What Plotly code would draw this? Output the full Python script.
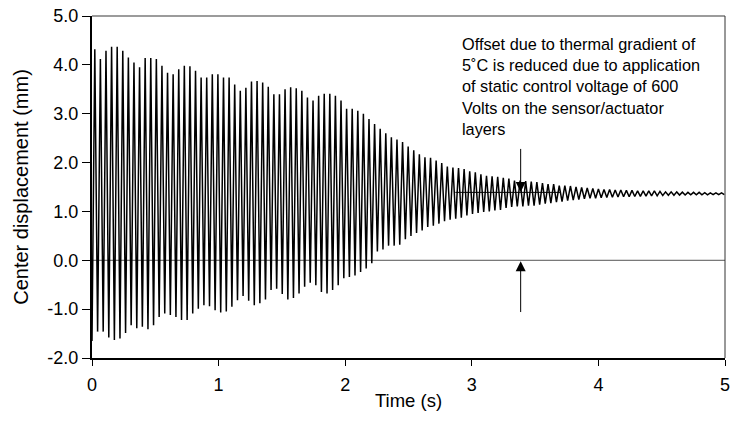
import plotly.graph_objects as go

# ---- data ----
period = 0.0442  # s, one oscillation cycle

# successive upper peaks (mm), peak k at (k-0.5)*period
peaks = [
    4.32, 4.12, 4.29, 4.37, 4.37, 4.29, 4.15, 4.05, 3.95, 4.14,
    4.14, 4.12, 3.98, 3.84, 3.81, 3.91, 3.98, 3.97, 3.88, 3.74,
    3.74, 3.81, 3.81, 3.74, 3.74, 3.60, 3.47, 3.53, 3.66, 3.67,
    3.64, 3.55, 3.40, 3.40, 3.50, 3.54, 3.52, 3.47, 3.33, 3.27,
    3.37, 3.41, 3.41, 3.37, 3.27, 3.10, 3.10, 3.06, 3.00, 2.89,
    2.79, 2.69, 2.60, 2.52, 2.47, 2.42, 2.33, 2.25,
    2.17, 2.11, 2.10, 2.04, 1.99, 1.92, 1.90, 1.89, 1.87, 1.82,
    1.80, 1.76, 1.73, 1.72, 1.71, 1.69, 1.67, 1.63, 1.63, 1.62,
    1.61, 1.60, 1.58, 1.56, 1.56, 1.53, 1.53,
    1.52, 1.50, 1.49, 1.48, 1.47, 1.46, 1.45, 1.45, 1.44, 1.44,
    1.43, 1.43, 1.42, 1.42, 1.42, 1.42, 1.41, 1.40, 1.40, 1.40,
    1.395, 1.39, 1.39, 1.39, 1.385, 1.38, 1.38, 1.38,
]

# successive lower troughs (mm), trough k at k*period
troughs = [
    -1.65,
    -1.46, -1.46, -1.58, -1.63, -1.60, -1.49, -1.33, -1.39, -1.36, -1.41,
    -1.33, -1.16, -1.09, -1.12, -1.16, -1.22, -1.22, -1.09, -0.99, -0.92,
    -0.94, -1.02, -1.07, -1.05, -0.95, -0.82, -0.73, -0.83, -0.92,
    -0.88, -0.80, -0.61, -0.58, -0.69, -0.80, -0.77, -0.68, -0.54, -0.46,
    -0.51, -0.65, -0.68, -0.61, -0.51, -0.37, -0.34, -0.31, -0.24, -0.17,
    -0.06, 0.18, 0.22, 0.30, 0.30, 0.32, 0.43, 0.50,
    0.56, 0.61, 0.68, 0.71, 0.75, 0.80, 0.83, 0.85, 0.87, 0.92,
    0.95, 0.97, 0.99, 1.00, 1.02, 1.03, 1.07, 1.09, 1.10, 1.10,
    1.12, 1.12, 1.14, 1.16, 1.17, 1.19, 1.20, 1.22,
    1.23, 1.24, 1.26, 1.27, 1.27, 1.28, 1.285, 1.29, 1.295, 1.30,
    1.30, 1.305, 1.31, 1.315, 1.32, 1.32, 1.325, 1.33, 1.33, 1.335,
    1.335, 1.34, 1.34, 1.34, 1.34, 1.345, 1.345, 1.345,
]

zero_line_t = [0, 5]
zero_line_y = [0, 0]
offset_line_t = [2.87, 3.70]
offset_line_y = [1.39, 1.39]

arrow_t = 3.386
upper_arrow = (2.31, 1.40)   # tail, tip
lower_arrow = (-1.09, -0.02)  # tail, tip

x_ticks = [0, 1, 2, 3, 4, 5]
x_labels = ["0", "1", "2", "3", "4", "5"]
y_ticks = [-2, -1, 0, 1, 2, 3, 4, 5]
y_labels = ["-2.0", "-1.0", "0.0", "1.0", "2.0", "3.0", "4.0", "5.0"]

note = ("Offset due to thermal gradient of<br>5˚C is reduced due to application<br>"
        "of static control voltage of 600<br>Volts on the sensor/actuator<br>layers")

# ---- build signal from extrema ----
t, y = [], []
for i in range(len(troughs)):
    t.append(i * period)
    y.append(troughs[i])
    if i < len(peaks):
        t.append((i + 0.5) * period)
        y.append(peaks[i])

FONT = "Liberation Sans, Arial, sans-serif"

fig = go.Figure()
fig.add_trace(go.Scatter(x=zero_line_t, y=zero_line_y, mode="lines",
                         line=dict(color="#555555", width=1), hoverinfo="skip"))
fig.add_trace(go.Scatter(x=t, y=y, mode="lines",
                         line=dict(color="black", width=1.5)))
fig.add_trace(go.Scatter(x=offset_line_t, y=offset_line_y, mode="lines",
                         line=dict(color="black", width=1), hoverinfo="skip"))

for tail, tip in (upper_arrow, lower_arrow):
    fig.add_annotation(x=arrow_t, y=tip, ax=arrow_t, ay=tail,
                       xref="x", yref="y", axref="x", ayref="y",
                       text="", showarrow=True, arrowhead=2, arrowsize=2,
                       arrowwidth=1, arrowcolor="black")

fig.add_annotation(x=2.905, y=4.66, xref="x", yref="y", xanchor="left", yanchor="top",
                   align="left", showarrow=False, text=note,
                   font=dict(family=FONT, size=16.3, color="black"))

# frame: grey top, dark right
fig.add_shape(type="line", xref="paper", yref="paper", x0=0, x1=1, y0=1, y1=1,
              line=dict(color="#7a7a7a", width=1.5))
fig.add_shape(type="line", xref="paper", yref="paper", x0=1, x1=1, y0=0, y1=1,
              line=dict(color="#333333", width=1))

fig.update_layout(
    width=736, height=422,
    margin=dict(l=92, r=6, t=15, b=64),
    paper_bgcolor="white", plot_bgcolor="white",
    showlegend=False,
    font=dict(family=FONT, size=18, color="black"),
    xaxis=dict(range=[0, 5], tickvals=x_ticks, ticktext=x_labels,
               showgrid=False, zeroline=False, showline=True, linecolor="black",
               linewidth=2, ticks="outside", ticklen=6, tickwidth=1, tickcolor="black",
               ticklabelstandoff=3,
               title=dict(text="Time (s)", font=dict(size=18.5), standoff=0)),
    yaxis=dict(range=[-2, 5], tickvals=y_ticks, ticktext=y_labels,
               showgrid=False, zeroline=False, showline=True, linecolor="black",
               linewidth=2, ticks="outside", ticklen=8, tickwidth=1, tickcolor="black",
               title=dict(text="Center displacement (mm)", font=dict(size=20), standoff=13)),
)

fig.write_html("out.html")
